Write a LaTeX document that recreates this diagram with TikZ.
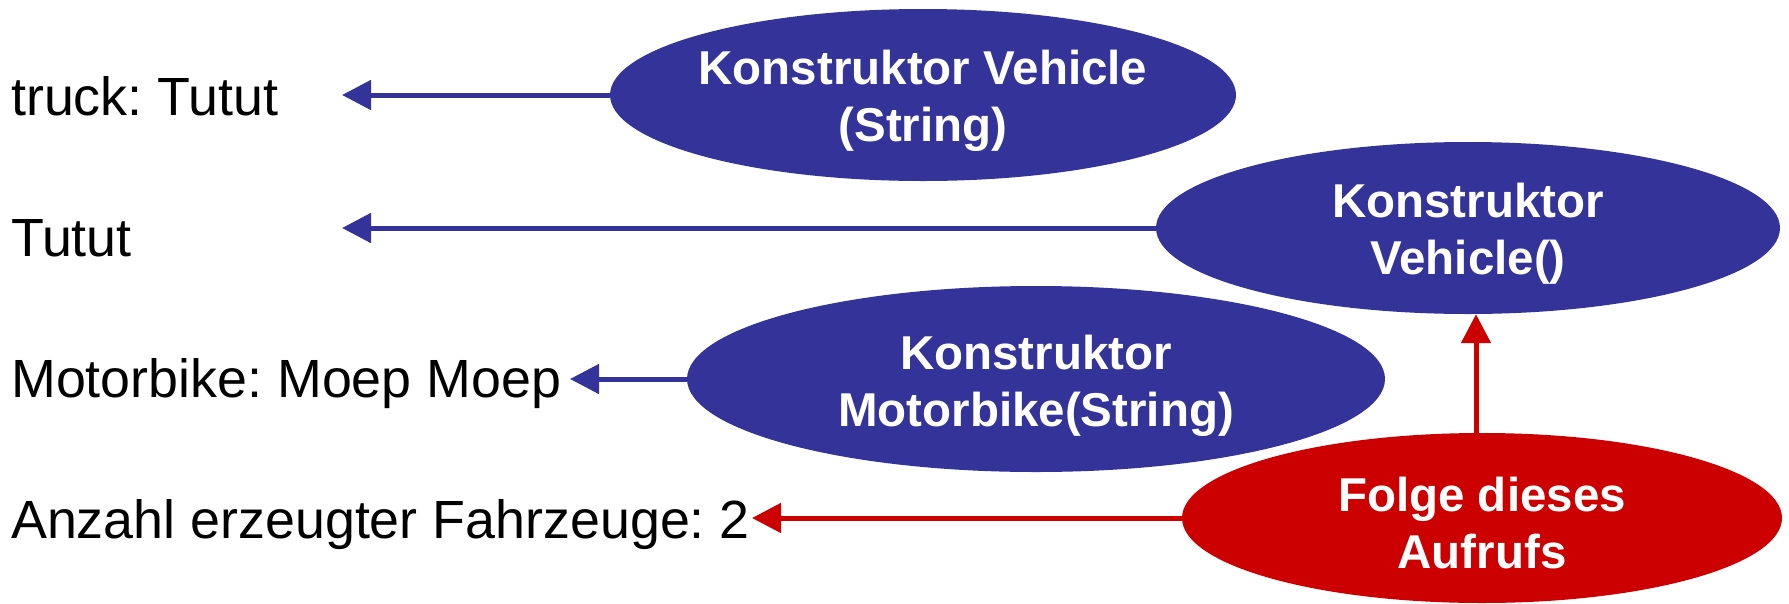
\documentclass[tikz,border=0pt]{standalone}
\usepackage{fontspec}
\setmainfont{Liberation Sans}
\usetikzlibrary{arrows.meta,shapes.geometric,backgrounds}
\definecolor{ctorblue}{HTML}{333399}
\definecolor{callred}{HTML}{CC0000}
\frenchspacing
\begin{document}
\begin{tikzpicture}[x=1pt,y=-1pt,
  outtext/.style={anchor=base west, inner sep=0pt, font=\fontsize{53.8}{64}\selectfont},
  ctor/.style={ellipse, inner sep=0pt, fill=#1, draw=none},
  ctortext/.style={align=center, text=white, inner sep=0pt,
    font=\fontsize{47.5}{57}\selectfont\bfseries},
  link/.style={draw=#1, line width=5pt, -{Triangle[length=29pt,width=29pt]}}
]
\useasboundingbox (0,0) rectangle (1789,603);

% constructor ellipses
\node[ctor=ctorblue, minimum width=626pt, minimum height=172pt] (e1) at (923,95) {};
\node[ctortext] (e1t) at ([yshift=-6pt]e1.center) {Konstruktor Vehicle\\(String)};
\node[ctor=ctorblue, minimum width=624pt, minimum height=172pt] (e2) at (1468,228) {};
\node[ctortext] (e2t) at ([yshift=-6pt]e2.center) {Konstruktor\\Vehicle()};
\node[ctor=ctorblue, minimum width=698pt, minimum height=186pt] (e3) at (1036,379) {};
\node[ctortext] (e3t) at ([yshift=-7pt]e3.center) {Konstruktor\\Motorbike(String)};
\node[ctor=callred, minimum width=600pt, minimum height=170pt] (e4) at (1482,518) {};
\node[ctortext] (e4t) at ([yshift=-5pt]e4.center) {Folge dieses\\Aufrufs};

% console output lines
\node[outtext] (o1) at (11,115) {truck: Tutut};
\node[outtext] (o2) at (11,256) {Tutut};
\node[outtext] (o3) at (11,397) {Motorbike: Moep Moep};
\node[outtext] (o4) at (11,538) {Anzahl erzeugter Fahrzeuge: 2};

% arrow tips in front of the output lines
\coordinate (t1) at (342,95);
\coordinate (t2) at (342,228);
\coordinate (t3) at (570,379);
\coordinate (t4) at (752,518);
\coordinate (up) at ([xshift=-6pt]e4.north);

\begin{scope}[on background layer]
  \draw[link=ctorblue] (e1.west) -- (t1);
  \draw[link=ctorblue] (e2.west) -- (t2);
  \draw[link=ctorblue] (e3.west) -- (t3);
  \draw[link=callred] (e4.west) -- (t4);
  \draw[link=callred] (up) -- (up |- e2.south);
\end{scope}
\end{tikzpicture}
\end{document}
